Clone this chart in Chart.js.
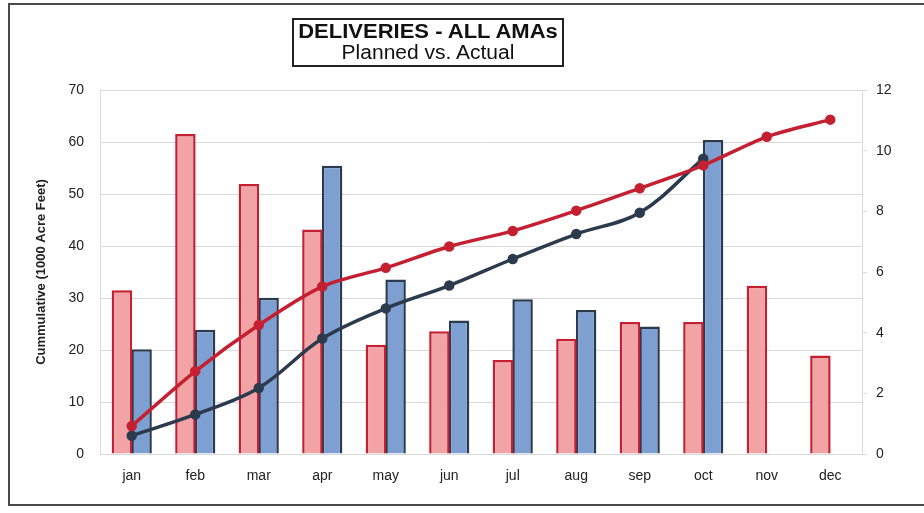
<!DOCTYPE html>
<html>
<head>
<meta charset="utf-8">
<script src="https://cdn.jsdelivr.net/npm/chart.js@4.4.1/dist/chart.umd.min.js"></script>
<style>
  html, body { margin: 0; padding: 0; background: #fff; overflow: hidden; }
  #wrap { position: relative; width: 924px; height: 513px; }
  #frame { position: absolute; left: 8px; top: 3px; width: 930px; height: 503px; border: 2px solid #4a4a4a; box-sizing: border-box; pointer-events: none; }
  #titleBox {
    position: absolute; left: 292px; top: 18px; width: 272px; height: 49px;
    border: 2px solid #222; box-sizing: border-box; background: #fff;
    font-family: "Liberation Sans", Arial, sans-serif; color: #111; text-align: center;
  }
  #titleBox .t1 { font-weight: bold; font-size: 20px; line-height: 21px; margin-top: 1px; transform: scaleX(1.1); }
  #titleBox .t2 { font-size: 20px; line-height: 21px; transform: scaleX(1.05); }
  canvas { position: absolute; left: 0; top: 0; }
</style>
</head>
<body>
<div id="wrap">
  <canvas id="chart" width="924" height="513"></canvas>
  <div id="frame"></div>
  <div id="titleBox">
    <div class="t1">DELIVERIES - ALL AMAs</div>
    <div class="t2">Planned vs. Actual</div>
  </div>
</div>
<script>
  // 월별 값 (오른쪽 축, 0-12)
  const months = ['jan', 'feb', 'mar', 'apr', 'may', 'jun', 'jul', 'aug', 'sep', 'oct', 'nov', 'dec'];
  const plannedMonthly = [5.4, 10.55, 8.9, 7.4, 3.6, 4.05, 3.1, 3.8, 4.35, 4.35, 5.55, 3.25];
  const actualMonthly = [3.45, 4.1, 5.15, 9.5, 5.75, 4.4, 5.1, 4.75, 4.2, 10.35, null, null];

  // 누적 값 (왼쪽 축, 0-70)
  const plannedCumulative = [5.4, 15.9, 24.8, 32.2, 35.8, 39.9, 42.9, 46.8, 51.1, 55.5, 61.0, 64.3];
  const actualCumulative = [3.5, 7.6, 12.7, 22.2, 28.0, 32.4, 37.5, 42.3, 46.4, 56.8, null, null];

  const FONT = '"Liberation Sans", Arial, sans-serif';
  const RED = '#c42032';
  const NAVY = '#2c3a4e';

  const ctx = document.getElementById('chart');
  new Chart(ctx, {
    data: {
      labels: months,
      datasets: [
        {
          type: 'line', label: 'Planned cumulative', data: plannedCumulative, yAxisID: 'y',
          borderColor: RED, backgroundColor: RED, borderWidth: 3.5,
          pointRadius: 3.5, pointBackgroundColor: RED, pointBorderColor: RED,
          tension: 0.3, order: 0
        },
        {
          type: 'line', label: 'Actual cumulative', data: actualCumulative, yAxisID: 'y',
          borderColor: NAVY, backgroundColor: NAVY, borderWidth: 3.5,
          pointRadius: 3.5, pointBackgroundColor: NAVY, pointBorderColor: NAVY,
          tension: 0.35, order: 0
        },
        {
          type: 'bar', label: 'Planned', data: plannedMonthly, yAxisID: 'y1',
          backgroundColor: '#f1a3a6', borderColor: RED, borderWidth: 2.5,
          barPercentage: 1.04, categoryPercentage: 0.62, order: 1
        },
        {
          type: 'bar', label: 'Actual', data: actualMonthly, yAxisID: 'y1',
          backgroundColor: '#7e9fd2', borderColor: NAVY, borderWidth: 2.5,
          barPercentage: 1.04, categoryPercentage: 0.62, order: 1
        }
      ]
    },
    options: {
      responsive: false,
      animation: false,
      layout: { padding: { left: 34, right: 0, top: 90, bottom: 0 } },
      plugins: {
        legend: { display: false },
        tooltip: { enabled: false }
      },
      scales: {
        x: {
          grid: { display: false },
          border: { color: '#d9d9d9' },
          ticks: { color: '#222', font: { family: FONT, size: 14 }, padding: 6 },
          afterFit: (s) => { s.height = 59; }
        },
        y: {
          position: 'left', min: 0, max: 70,
          ticks: { stepSize: 10, color: '#222', font: { family: FONT, size: 14 }, padding: 16 },
          grid: { color: '#d9d9d9', drawTicks: false },
          border: { color: '#d9d9d9' },
          title: {
            display: true, text: 'Cummulative (1000 Acre Feet)', color: '#222',
            font: { family: FONT, size: 13, weight: 'bold' }, padding: 0
          },
          afterFit: (s) => { s.width = 66; }
        },
        y1: {
          position: 'right', min: 0, max: 12,
          ticks: { stepSize: 2, color: '#222', font: { family: FONT, size: 14 }, padding: 9 },
          grid: { drawOnChartArea: false, color: '#d9d9d9', tickLength: 5 },
          border: { color: '#d9d9d9' },
          afterFit: (s) => { s.width = 62; }
        }
      }
    }
  });
</script>
</body>
</html>
